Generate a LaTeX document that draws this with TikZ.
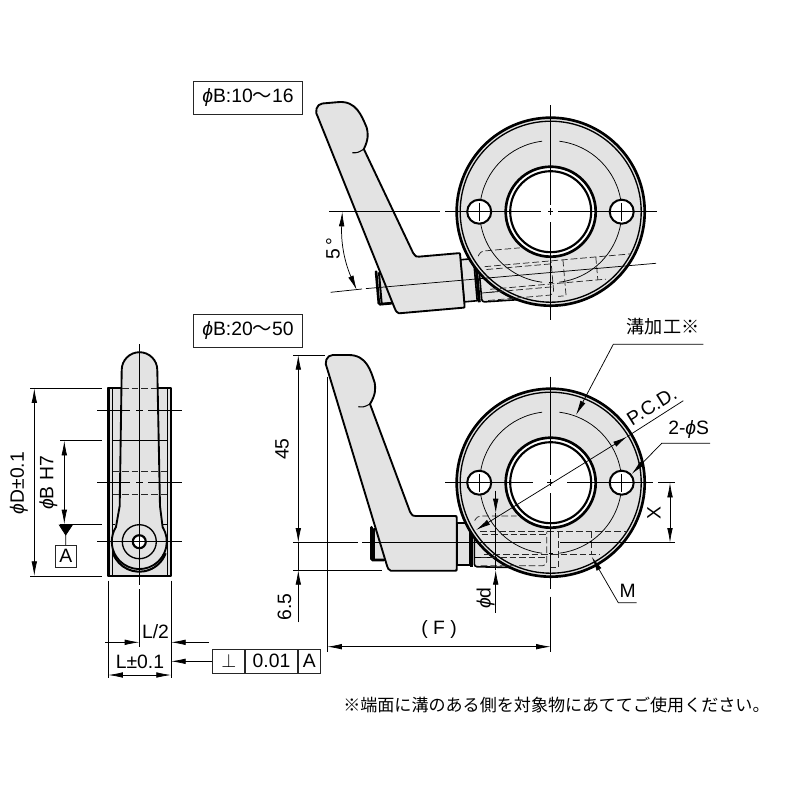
\documentclass[tikz,border=0pt]{standalone}
\usepackage{fontspec}
\setmainfont{Liberation Sans}
\newfontfamily\cjk{Noto Sans CJK JP}
\usetikzlibrary {arrows.meta,backgrounds,fit,positioning}

\definecolor{partgray}{gray}{0.89}
\tikzset{
  outline/.style={draw=black, line width=1.5pt, line join=round},
  partfill/.style={outline, fill=partgray},
  thinline/.style={draw=black, line width=0.55pt},
  hiddenline/.style={draw=black!85, line width=0.55pt, dash pattern=on 5pt off 2.2pt},
  dimline/.style={thinline, >={Latex[length=11pt,width=4.2pt]}},
  label/.style={inner sep=0pt, font=\fontsize{14.5}{16}\selectfont},
  framebox/.style={draw=black!85, line width=0.55pt, inner sep=0pt, font=\fontsize{14.5}{16}\selectfont}
}
% lever in its own frame: origin on the ring centre, y downwards
\newcommand{\leverparts}{
  \draw[partfill] (-176.4,46) -- (-176.4,77.3) -- (-140,77.3) -- (-140,46) -- cycle;
  \draw[line width=2pt, line cap=round, rounded corners=1pt] (-179.2,44.5) -- (-179.2,77.3) -- (-167,77.3);
  \draw[partfill, rounded corners=2pt, line width=1.2pt] (-76.4,52) -- (-76.4,84) -- (-30,85) -- (-30,52) -- cycle;
  \draw[thinline] (-76.4,75) -- (-50,75);
  \draw[partfill, line width=1.2pt] (-94,40) -- (-81,40) -- (-81,82.3) -- (-94,82.3) -- cycle;
  \draw[line width=2.2pt] (-79,50.6) -- (-79,84);
  \draw[partfill, line width=1.4pt]
    (-223.5,-114) -- (-164,82) .. controls (-162.5,86.5) .. (-160,88) -- (-95.5,88)
    .. controls (-94,88) .. (-94,86) -- (-94,35) .. controls (-94,33.3) .. (-96,33.3)
    -- (-135,33.3) .. controls (-138,33.3) .. (-140.7,29) -- (-180.7,-78.7)
    .. controls (-175,-88) and (-175,-94) .. (-176,-100)
    .. controls (-180,-112) and (-184,-127.7) .. (-202,-127.7)
    -- (-218,-127.7) .. controls (-224,-127.7) and (-227,-120) .. (-223.5,-114) -- cycle;
  \draw[line width=0.8pt] (-192.4,-76) .. controls (-187,-75.5) .. (-180.7,-78.7);
}
\newcommand{\leverhidden}{
  \draw[hiddenline, rounded corners=3pt] (-76,38) -- (-74,33.3) -- (-34,33.3);
  \draw[hiddenline] (-70.7,49) -- (76,49);
  \draw[hiddenline] (-69,52) -- (-5,52);
  \draw[hiddenline] (-67,72) -- (49,72);
  \draw[hiddenline] (-70,75) -- (-5,75);
  \draw[hiddenline, rounded corners=3pt] (-70,83) -- (-4,83) -- (-4,49);
  \draw[hiddenline] (8,49) -- (8,85) -- (0,85);
  \draw[hiddenline] (41,49) -- (41,72);
}
\newcommand{\ringbody}{
  \draw[fill=partgray, line width=2pt] (0,0) circle [radius=94];
  \draw[line width=1pt] (0,0) circle [radius=90.5];
  \draw[line width=2pt, fill=white] (0,0) circle [radius=45];
  \draw[line width=1.6pt, fill=white] (0,0) circle [radius=40.5];
  \draw[thinline] (0,0) ++(97:71) arc (97:263:71);
  \draw[thinline] (0,0) ++(83:71) arc (83:-83:71);
  \draw[thinline] (0,0) ++(91.5:71) arc (91.5:88.5:71);
  \draw[line width=1.5pt, fill=white] (-71.5,0) circle [radius=12];
  \draw[line width=1.5pt, fill=white] (71,0) circle [radius=12];
  \draw[thinline] (-71.5,-9) -- (-71.5,9);
  \draw[thinline] (71,-9) -- (71,9);
}

\begin{document}
\begin{tikzpicture}[x=0.75pt, y=-0.75pt]
  \useasboundingbox (0,0) rectangle (800,800);

  % upper view
  \node[framebox, minimum width=81.75pt, minimum height=24.75pt] (boxsmall) at (248,97.7) {\textit{ϕ}B:10{\cjk ～}16};
  \begin{scope}[shift={(550.7,211.7)}, rotate=5]
    \leverparts
  \end{scope}
  \begin{scope}[shift={(550.7,211.7)}]
    \ringbody
  \end{scope}
  \begin{scope}[shift={(550.7,211.7)}, rotate=5]
    \leverhidden
  \end{scope}
  \draw[thinline] (329.3,211.7) -- (440,211.7) (445,211.7) -- (541,211.7) (548,211.7) -- (553,211.7) (558,211.7) -- (657,211.7);
  \draw[thinline] (550.7,105) -- (550.7,205) (550.7,208) -- (550.7,215) (550.7,222) -- (550.7,320);
  \draw[thinline] (330.7,292.3) -- (362,289) (366,288.6) -- (656,263.3);
  \draw[dimline, <->] (342.3,211.7) to[bend right=13] (356.7,290);
  \node[label, rotate=90] (anglelabel) at (333,249) {5\,\textdegree};

  % lower view
  \node[framebox, minimum width=81.75pt, minimum height=24.75pt] (boxlarge) at (248,330.5) {\textit{ϕ}B:20{\cjk ～}50};
  \begin{scope}[shift={(550.7,482.7)}]
    \leverparts
    \ringbody
    \leverhidden
  \end{scope}
  \draw[thinline] (445,482.7) -- (533,482.7) (547,482.7) -- (553,482.7) (567,482.7) -- (653,482.7) (658,482.7) -- (675,482.7);
  \draw[thinline] (550.7,376.7) -- (550.7,475) (550.7,479) -- (550.7,486) (550.7,493) -- (550.7,589) (550.7,596.7) -- (550.7,651.7);
  \draw[thinline] (293,542.7) -- (358,542.7) (362,542.7) -- (541,542.7) (560,542.7) -- (675,542.7);
  % dimensions of the lower view
  \draw[thinline] (293,355) -- (325,355);
  \draw[thinline] (293,570) -- (381.7,570);
  \draw[thinline] (327.3,376.7) -- (327.3,651.7);
  \draw[dimline, <->] (298.3,355) -- (298.3,542.7);
  \draw[dimline, ->] (298.3,622.3) -- (298.3,570);
  \draw[thinline] (298.3,542.7) -- (298.3,570);
  \node[label, rotate=90] (heightlabel) at (282,449) {45};
  \node[label, rotate=90] (offsetlabel) at (284.5,606.7) {6.5};
  \draw[dimline, <->] (327.3,646.7) -- (550.7,646.7);
  \node[label] (flabel) at (439,629.5) {( F )};
  \draw[dimline, <->] (670,482.7) -- (670,542.7);
  \node[label, rotate=90] (xlabel) at (654,512.7) {X};
  \draw[dimline, ->] (495.7,490.7) -- (495.7,513.3);
  \draw[dimline, ->] (495.7,612.7) -- (495.7,570);
  \draw[thinline] (495.7,513.3) -- (495.7,570);
  \node[label, rotate=90] (dlabel) at (485.7,598) {\textit{ϕ}d};
  \draw[dimline, <->] (476,530) -- (627.3,436.5);
  \draw[thinline] (627.3,436.5) -- (683.3,400.7);
  \node[label, rotate=32] (pcdlabel) at (651.7,406) {P.C.D.};
  \node[label, anchor=south west] (slabel) at (668,438.5) {2-\textit{ϕ}S};
  \draw[dimline, ->] (710,443.3) -- (661.7,443.3) -- (631.7,474);
  \node[label] (mlabel) at (627.7,590.7) {M};
  \draw[dimline, ->] (636.7,602.7) -- (618.3,602.7) -- (591.7,556.7);
  \node[inner sep=0pt, font=\cjk\fontsize{13.6}{16}\selectfont] (groovelabel) at (663,327) {溝加工※};
  \draw[dimline, ->] (703.3,344.3) -- (613.3,344.3) -- (576,415);

  % side view
  \draw[partfill] (108.3,388.3) rectangle (171,576);
  \draw[line width=2pt] (108.8,388.3) -- (108.8,576) (171,388.3) -- (171,576);
  \draw[line width=1pt] (112.5,388.3) -- (112.5,576) (167.3,388.3) -- (167.3,576);
  \draw[partfill, line width=1.4pt] (121.7,370) arc (180:360:17.8) -- (160,506) -- (162.6,527)
    arc (-32:212:27.5) -- (119.7,506) -- cycle;
  \draw[line width=1.5pt] (139.3,543.7) ++(160:28) arc (160:20:28);
  \draw[line width=1pt] (139.3,541.7) circle [radius=17];
  \draw[line width=1.6pt, fill=white] (139.3,541.7) circle [radius=6.5];
  \draw[hiddenline] (122,388.3) -- (157,388.3);
  \draw[hiddenline] (112.5,471.7) -- (167.3,471.7);
  \draw[hiddenline] (112.5,494) -- (167.3,494);
  \draw[thinline] (112.5,440.7) -- (167.3,440.7);
  \draw[thinline] (112.5,524.3) -- (115,524.3) (163,524.3) -- (167.3,524.3);
  \draw[thinline] (97.3,410.7) -- (130,410.7) (136,410.7) -- (143,410.7) (148,410.7) -- (181.7,410.7);
  \draw[thinline] (97.3,482.7) -- (130,482.7) (136,482.7) -- (143,482.7) (148,482.7) -- (181.7,482.7);
  \draw[thinline] (97.3,541.7) -- (181.7,541.7);
  \draw[thinline] (139.3,344) -- (139.3,585) (139.3,589) -- (139.3,646.7);
  % dimensions of the side view
  \draw[thinline] (30,388.3) -- (101.7,388.3);
  \draw[thinline] (30,576) -- (101.7,576);
  \draw[thinline] (60,440.7) -- (101.7,440.7);
  \draw[thinline] (60,524.3) -- (101.7,524.3);
  \draw[dimline, <->] (34.3,388.3) -- (34.3,576);
  \node[label, rotate=90] (dialabel) at (19,483) {\textit{ϕ}D±0.1};
  \draw[dimline, <->] (64.3,440.7) -- (64.3,524.3);
  \node[label, rotate=90] (borelabel) at (48.3,483) {\textit{ϕ}B H7};
  \draw[thinline, fill=black] (59.3,525) -- (72.3,525) -- (65.7,535) -- cycle;
  \node[framebox, minimum width=16pt, minimum height=16pt] (datum) at (65.8,556.2) {A};
  \draw[thinline] (65.7,535) -- (datum);
  \draw[thinline] (108.3,580.7) -- (108.3,678);
  \draw[thinline] (171,580.7) -- (171,678);
  \draw[dimline, ->] (105,642.3) -- (139.3,642.3);
  \draw[dimline, ->] (209,642.3) -- (171,642.3);
  \node[label] (halflabel) at (155.5,632) {L/2};
  \draw[dimline, <->] (108.3,675) -- (171,675);
  \node[label] (widthlabel) at (140,662) {L±0.1};
  \node[framebox, minimum width=24pt, minimum height=18pt] (perpbox) at (228.8,661.3) {$\perp$};
  \node[framebox, minimum width=39pt, minimum height=18pt, right=0pt of perpbox] (tolbox) {0.01};
  \node[framebox, minimum width=16.5pt, minimum height=18pt, right=0pt of tolbox] (refbox) {A};
  \draw[dimline, ->] (perpbox.west) -- (171,661.3);

  \node[anchor=west, inner sep=0pt, font=\cjk\fontsize{12.8}{15}\selectfont] (note) at (343,705) {※端面に溝のある側を対象物にあててご使用ください。};
\end{tikzpicture}
\end{document}
